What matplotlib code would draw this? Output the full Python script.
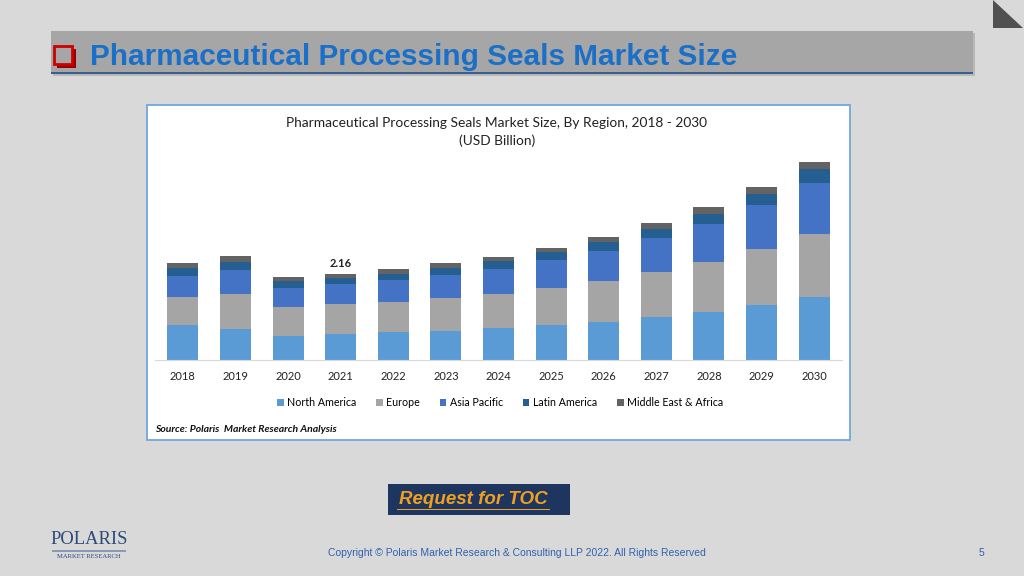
import numpy as np
import matplotlib
matplotlib.use("Agg")
import matplotlib.pyplot as plt
from matplotlib.patches import Rectangle, Polygon

# data (USD Billion)
years = ["2018", "2019", "2020", "2021", "2022", "2023", "2024",
         "2025", "2026", "2027", "2028", "2029", "2030"]
north_america = [0.88, 0.78, 0.60, 0.65, 0.69, 0.73, 0.79, 0.88, 0.95, 1.08, 1.19, 1.38, 1.58]
europe        = [0.69, 0.88, 0.73, 0.74, 0.76, 0.82, 0.86, 0.93, 1.03, 1.12, 1.26, 1.40, 1.58]
asia_pacific  = [0.53, 0.58, 0.48, 0.50, 0.54, 0.57, 0.63, 0.68, 0.74, 0.85, 0.95, 1.09, 1.27]
latin_america = [0.20, 0.20, 0.17, 0.17, 0.17, 0.18, 0.20, 0.20, 0.23, 0.23, 0.25, 0.29, 0.34]
mea           = [0.12, 0.15, 0.10, 0.10, 0.12, 0.12, 0.10, 0.12, 0.13, 0.15, 0.18, 0.17, 0.18]
region_names = ["North America", "Europe", "Asia Pacific", "Latin America", "Middle East & Africa"]
region_colors = ["#5b9bd5", "#a5a5a5", "#4472c4", "#255e91", "#636363"]
label_year = "2021"
label_text = "2.16"

W, H = 1024, 576
fig = plt.figure(figsize=(W / 100, H / 100), dpi=100, facecolor="#d9d9d9")


def fx(px):
    return px / W


def fy(py):
    return 1 - py / H


def rect_px(x0, y0, x1, y1, **kw):
    r = Rectangle((fx(x0), fy(y1)), fx(x1) - fx(x0), fy(y0) - fy(y1),
                  transform=fig.transFigure, **kw)
    fig.patches.append(r)
    return r


# top right triangle
fig.patches.append(Polygon([(fx(993), fy(0)), (fx(993), fy(28)), (fx(1023), fy(28))],
                           closed=True, transform=fig.transFigure, fc="#505050", ec="none"))

# title banner
rect_px(53, 33, 975, 76, fc="#b8b8b8", ec="none")  # soft shadow
rect_px(51, 31, 973, 73, fc="#a6a6a6", ec="none")
rect_px(51, 72, 973, 74, fc="#3a5f8f", ec="none")
rect_px(57, 49, 76, 68, fc="#9a0000", ec="none")
rect_px(54, 46, 72, 64, fc="#a6a6a6", ec="#cc0000", lw=2)
fig.text(fx(90), fy(57), "Pharmaceutical Processing Seals Market Size",
         family="Liberation Sans", fontsize=21.4, fontweight="bold",
         color="#1a6fc8", ha="left", va="center")

# chart panel
rect_px(147, 105, 850, 440, fc="white", ec="#6fa8dc", lw=1.3)
fig.text(fx(497), fy(123), "Pharmaceutical Processing Seals Market Size, By Region, 2018 - 2030",
         family="Lato", fontsize=9.9, color="#222222", ha="center", va="center")
fig.text(fx(497), fy(141), "(USD Billion)",
         family="Lato", fontsize=9.9, color="#222222", ha="center", va="center")

ax = fig.add_axes([fx(155), fy(360), fx(842) - fx(155), fy(140) - fy(360)])
ax.set_zorder(5)
ax.set_facecolor("none")
x = np.arange(len(years))
series = [north_america, europe, asia_pacific, latin_america, mea]
bottom = np.zeros(len(years))
handles = []
for vals, name, col in zip(series, region_names, region_colors):
    b = ax.bar(x, vals, width=0.59, bottom=bottom, color=col, label=name, zorder=2)
    handles.append(b)
    bottom += np.array(vals)

i = years.index(label_year)
ax.text(x[i], bottom[i] + 0.12, label_text, ha="center", va="bottom",
        family="Lato", fontsize=8, fontweight="bold", color="#222222")

ax.set_xlim(-0.53, len(years) - 0.47)
ax.set_ylim(0, 5.5)
ax.set_xticks(x)
ax.set_xticklabels(years, family="Lato", fontsize=8, color="#222222")
ax.tick_params(axis="x", length=0, pad=8)
ax.set_yticks([])
for s in ["top", "right", "left"]:
    ax.spines[s].set_visible(False)
ax.spines["bottom"].set_color("#d9d9d9")

leg = fig.legend(handles, region_names, loc="center", bbox_to_anchor=(fx(500), fy(403)),
                 ncol=5, frameon=False, prop={"family": "Lato", "size": 7.7},
                 handlelength=0.6, handleheight=0.6, handletextpad=0.3, columnspacing=1.9)
leg.set_zorder(5)

fig.text(fx(155), fy(429), "Source: Polaris  Market Research Analysis",
         family="Lato", fontsize=7.5, fontweight="bold", style="italic",
         color="#111111", ha="left", va="center")

# request button
rect_px(388, 484, 570, 515, fc="#1e3560", ec="none")
fig.text(fx(473), fy(499), "Request for TOC", family="Liberation Sans", fontsize=13.5,
         fontweight="bold", style="italic", color="#f0a020", ha="center", va="center")
rect_px(397, 509, 550, 510.3, fc="#f0a020", ec="none")

# logo
fig.text(fx(89), fy(540), "POLARIS", family="Liberation Serif", fontsize=13.3,
         color="#2b4a7a", ha="center", va="center")
rect_px(52, 550, 126, 551.5, fc="#8a9bb5", ec="none")
fig.text(fx(89), fy(557), "MARKET RESEARCH", family="Liberation Serif", fontsize=4.8,
         color="#2b4a7a", ha="center", va="center")

# footer
fig.text(fx(517), fy(553), "Copyright \u00a9 Polaris Market Research & Consulting LLP 2022. All Rights Reserved",
         family="Liberation Sans", fontsize=7.5, color="#2e62b0", ha="center", va="center")
fig.text(fx(981), fy(553), "5", family="Liberation Sans", fontsize=7.5,
         color="#2e62b0", ha="center", va="center")

fig.savefig("out.png", dpi=100, facecolor=fig.get_facecolor())
